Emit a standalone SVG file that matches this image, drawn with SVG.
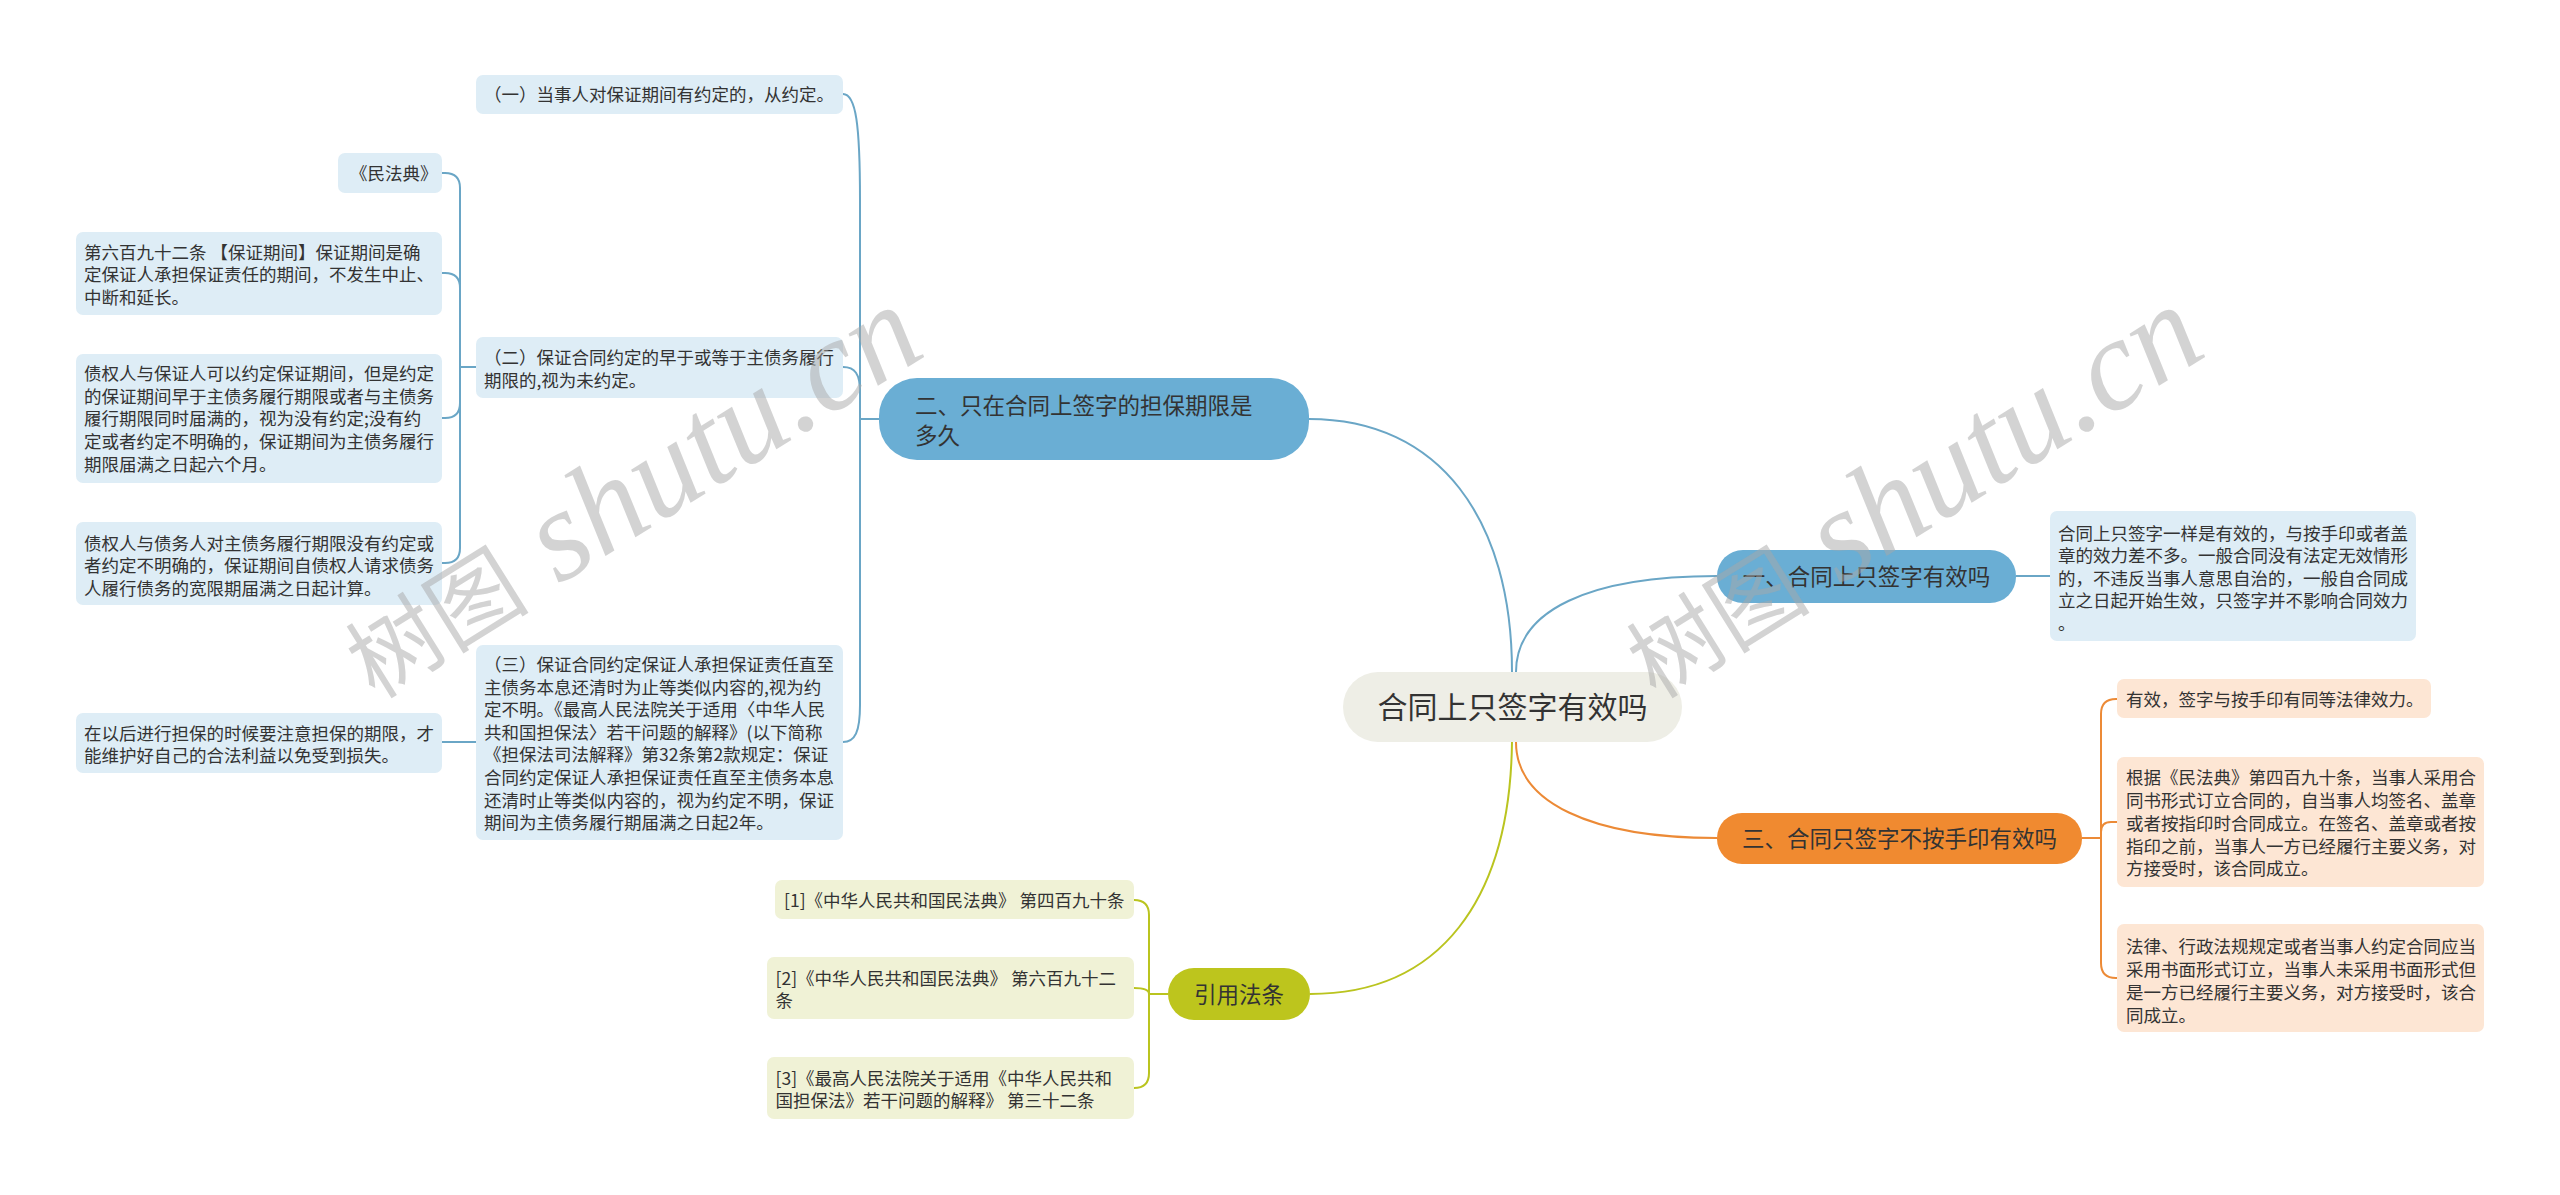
<svg xmlns="http://www.w3.org/2000/svg" width="2560" height="1195" viewBox="0 0 2560 1195">
<style>
.t{font-family:"Noto Sans CJK SC","Noto Sans",sans-serif;fill:#333333}
.s{font-size:17.5px}
.b{font-size:22.5px}
.r{font-size:30px}
.lb{fill:#deedf6}
.lo{fill:#fde6d4}
.lg{fill:#f0f2d6}
.cb{fill:none;stroke:#6aa6c6;stroke-width:2}
.co{fill:none;stroke:#ec8a36;stroke-width:2}
.cg{fill:none;stroke:#bac41f;stroke-width:2}
.wm{font-family:"Liberation Serif","Noto Sans CJK SC",serif;fill:#a8a8a8;fill-opacity:0.5}
</style>
<rect width="2560" height="1195" fill="#ffffff"/>
<g id="connectors">
<path class="cb" d="M1512 672 C1512 520 1440 419 1309 419"/>
<path class="cb" d="M1516 672 C1516 610 1590 576 1717 576"/>
<path class="co" d="M1516 742 C1516 802 1590 838 1717 838"/>
<path class="cg" d="M1512 742 C1510 900 1440 994 1310 994"/>
<path class="cb" d="M2016 576 H2050"/>
<path class="cb" d="M879 419 H860 V200 C860 125 856 94 843 94"/>
<path class="cb" d="M879 419 H860 V392 C860 374 855 367 843 367"/>
<path class="cb" d="M879 419 H860 V705 C860 732 855 742 843 742"/>
<path class="cb" d="M476 367 H460 V188 Q460 173 445 173 H442"/>
<path class="cb" d="M476 367 H460 V288 Q460 273 445 273 H442"/>
<path class="cb" d="M476 367 H460 V403 Q460 418 445 418 H442"/>
<path class="cb" d="M476 367 H460 V548 Q460 563 445 563 H442"/>
<path class="cb" d="M476 742 H442"/>
<path class="co" d="M2082 838 H2101 V714 Q2101 699 2116 699 H2117"/>
<path class="co" d="M2082 838 H2101 V832 Q2101 822 2111 822 H2117"/>
<path class="co" d="M2082 838 H2101 V963 Q2101 978 2116 978 H2117"/>
<path class="cg" d="M1168 994 H1149 V915 Q1149 900 1134 900"/>
<path class="cg" d="M1168 994 H1149 C1149 990 1145 988 1134 988"/>
<path class="cg" d="M1168 994 H1149 V1073 Q1149 1088 1134 1088"/>
</g>
<g id="root">
<rect x="1343" y="672" width="339" height="70" rx="35" fill="#eeeee6"/>
<text class="t r" x="1512.5" y="718" text-anchor="middle">合同上只签字有效吗</text>
</g>
<g id="branch-2">
<rect x="879" y="378" width="430" height="82" rx="38" fill="#6aaed4"/>
<text class="t b" x="915" y="413.5">二、只在合同上签字的担保期限是</text>
<text class="t b" x="915" y="443.5">多久</text>
</g>
<g id="branch-1">
<rect x="1717" y="550" width="299" height="53" rx="26" fill="#6aaed4"/>
<text class="t b" x="1866.5" y="585" text-anchor="middle">一、合同上只签字有效吗</text>
</g>
<g id="branch-3">
<rect x="1717" y="813" width="365" height="51" rx="25" fill="#f08a30"/>
<text class="t b" x="1899.5" y="847" text-anchor="middle">三、合同只签字不按手印有效吗</text>
</g>
<g id="branch-cite">
<rect x="1168" y="968" width="142" height="52" rx="26" fill="#bdc51d"/>
<text class="t b" x="1239" y="1002.5" text-anchor="middle">引用法条</text>
</g>
<g id="n-yi">
<rect class="lb" x="476" y="75" width="367" height="39" rx="7"/>
<text class="t s" x="484" y="101">（一）当事人对保证期间有约定的，从约定。</text>
</g>
<g id="n-er">
<rect class="lb" x="476" y="337" width="367" height="61" rx="7"/>
<text class="t s" x="484" y="363.5">（二）保证合同约定的早于或等于主债务履行</text>
<text class="t s" x="484" y="386.5">期限的,视为未约定。</text>
</g>
<g id="n-san">
<rect class="lb" x="476" y="645" width="367" height="195" rx="7"/>
<text class="t s" x="484" y="670.5">（三）保证合同约定保证人承担保证责任直至</text>
<text class="t s" x="484" y="693.5">主债务本息还清时为止等类似内容的,视为约</text>
<text class="t s" x="484" y="715.5">定不明。《最高人民法院关于适用〈中华人民</text>
<text class="t s" x="484" y="738.5">共和国担保法〉若干问题的解释》(以下简称</text>
<text class="t s" x="484" y="761">《担保法司法解释》第32条第2款规定：保证</text>
<text class="t s" x="484" y="783.5">合同约定保证人承担保证责任直至主债务本息</text>
<text class="t s" x="484" y="806.5">还清时止等类似内容的，视为约定不明，保证</text>
<text class="t s" x="484" y="829">期间为主债务履行期届满之日起2年。</text>
</g>
<g id="n-mfd">
<rect class="lb" x="338" y="153" width="104" height="40" rx="7"/>
<text class="t s" x="350" y="179.5">《民法典》</text>
</g>
<g id="n-692">
<rect class="lb" x="76" y="232" width="366" height="83" rx="7"/>
<text class="t s" x="84" y="258.5">第六百九十二条 【保证期间】保证期间是确</text>
<text class="t s" x="84" y="281">定保证人承担保证责任的期间，不发生中止、</text>
<text class="t s" x="84" y="303.5">中断和延长。</text>
</g>
<g id="n-zqr1">
<rect class="lb" x="76" y="354" width="366" height="129" rx="7"/>
<text class="t s" x="84" y="379.5">债权人与保证人可以约定保证期间，但是约定</text>
<text class="t s" x="84" y="402.5">的保证期间早于主债务履行期限或者与主债务</text>
<text class="t s" x="84" y="425">履行期限同时届满的，视为没有约定;没有约</text>
<text class="t s" x="84" y="448">定或者约定不明确的，保证期间为主债务履行</text>
<text class="t s" x="84" y="470.5">期限届满之日起六个月。</text>
</g>
<g id="n-zqr2">
<rect class="lb" x="76" y="522" width="366" height="83" rx="7"/>
<text class="t s" x="84" y="549.5">债权人与债务人对主债务履行期限没有约定或</text>
<text class="t s" x="84" y="572">者约定不明确的，保证期间自债权人请求债务</text>
<text class="t s" x="84" y="594.5">人履行债务的宽限期届满之日起计算。</text>
</g>
<g id="n-yihou">
<rect class="lb" x="76" y="713" width="366" height="60" rx="7"/>
<text class="t s" x="84" y="739.5">在以后进行担保的时候要注意担保的期限，才</text>
<text class="t s" x="84" y="762">能维护好自己的合法利益以免受到损失。</text>
</g>
<g id="n-youxiao1">
<rect class="lb" x="2050" y="511" width="366" height="130" rx="7"/>
<text class="t s" x="2058" y="539.5">合同上只签字一样是有效的，与按手印或者盖</text>
<text class="t s" x="2058" y="562">章的效力差不多。一般合同没有法定无效情形</text>
<text class="t s" x="2058" y="584.5">的，不违反当事人意思自治的，一般自合同成</text>
<text class="t s" x="2058" y="607">立之日起开始生效，只签字并不影响合同效力</text>
<text class="t s" x="2058" y="629.5">。</text>
</g>
<g id="n-youxiao2">
<rect class="lo" x="2117" y="679" width="314" height="39" rx="7"/>
<text class="t s" x="2126" y="705.5">有效，签字与按手印有同等法律效力。</text>
</g>
<g id="n-genju">
<rect class="lo" x="2117" y="757" width="367" height="130" rx="7"/>
<text class="t s" x="2126" y="784">根据《民法典》第四百九十条，当事人采用合</text>
<text class="t s" x="2126" y="807">同书形式订立合同的，自当事人均签名、盖章</text>
<text class="t s" x="2126" y="829.5">或者按指印时合同成立。在签名、盖章或者按</text>
<text class="t s" x="2126" y="852.5">指印之前，当事人一方已经履行主要义务，对</text>
<text class="t s" x="2126" y="875">方接受时，该合同成立。</text>
</g>
<g id="n-falv">
<rect class="lo" x="2117" y="924" width="367" height="108" rx="7"/>
<text class="t s" x="2126" y="952.5">法律、行政法规规定或者当事人约定合同应当</text>
<text class="t s" x="2126" y="975.5">采用书面形式订立，当事人未采用书面形式但</text>
<text class="t s" x="2126" y="999">是一方已经履行主要义务，对方接受时，该合</text>
<text class="t s" x="2126" y="1021.5">同成立。</text>
</g>
<g id="n-cite1">
<rect class="lg" x="775" y="880" width="359" height="39" rx="7"/>
<text class="t s" x="784" y="906.5">[1]《中华人民共和国民法典》 第四百九十条</text>
</g>
<g id="n-cite2">
<rect class="lg" x="767" y="957" width="367" height="62" rx="7"/>
<text class="t s" x="775.5" y="984.5">[2]《中华人民共和国民法典》 第六百九十二</text>
<text class="t s" x="775.5" y="1006.5">条</text>
</g>
<g id="n-cite3">
<rect class="lg" x="767" y="1057" width="367" height="62" rx="7"/>
<text class="t s" x="775.5" y="1084.5">[3]《最高人民法院关于适用《中华人民共和</text>
<text class="t s" x="775.5" y="1106.5">国担保法》若干问题的解释》 第三十二条</text>
</g>
<g id="watermark">
<text class="wm" transform="translate(375,700) rotate(-32)"><tspan font-size="92" font-family="Noto Sans CJK SC,sans-serif">树图</tspan><tspan font-size="130" font-style="italic"> shutu.cn</tspan></text>
<text class="wm" transform="translate(1656,700) rotate(-32)"><tspan font-size="92" font-family="Noto Sans CJK SC,sans-serif">树图</tspan><tspan font-size="130" font-style="italic"> shutu.cn</tspan></text>
</g>
</svg>
